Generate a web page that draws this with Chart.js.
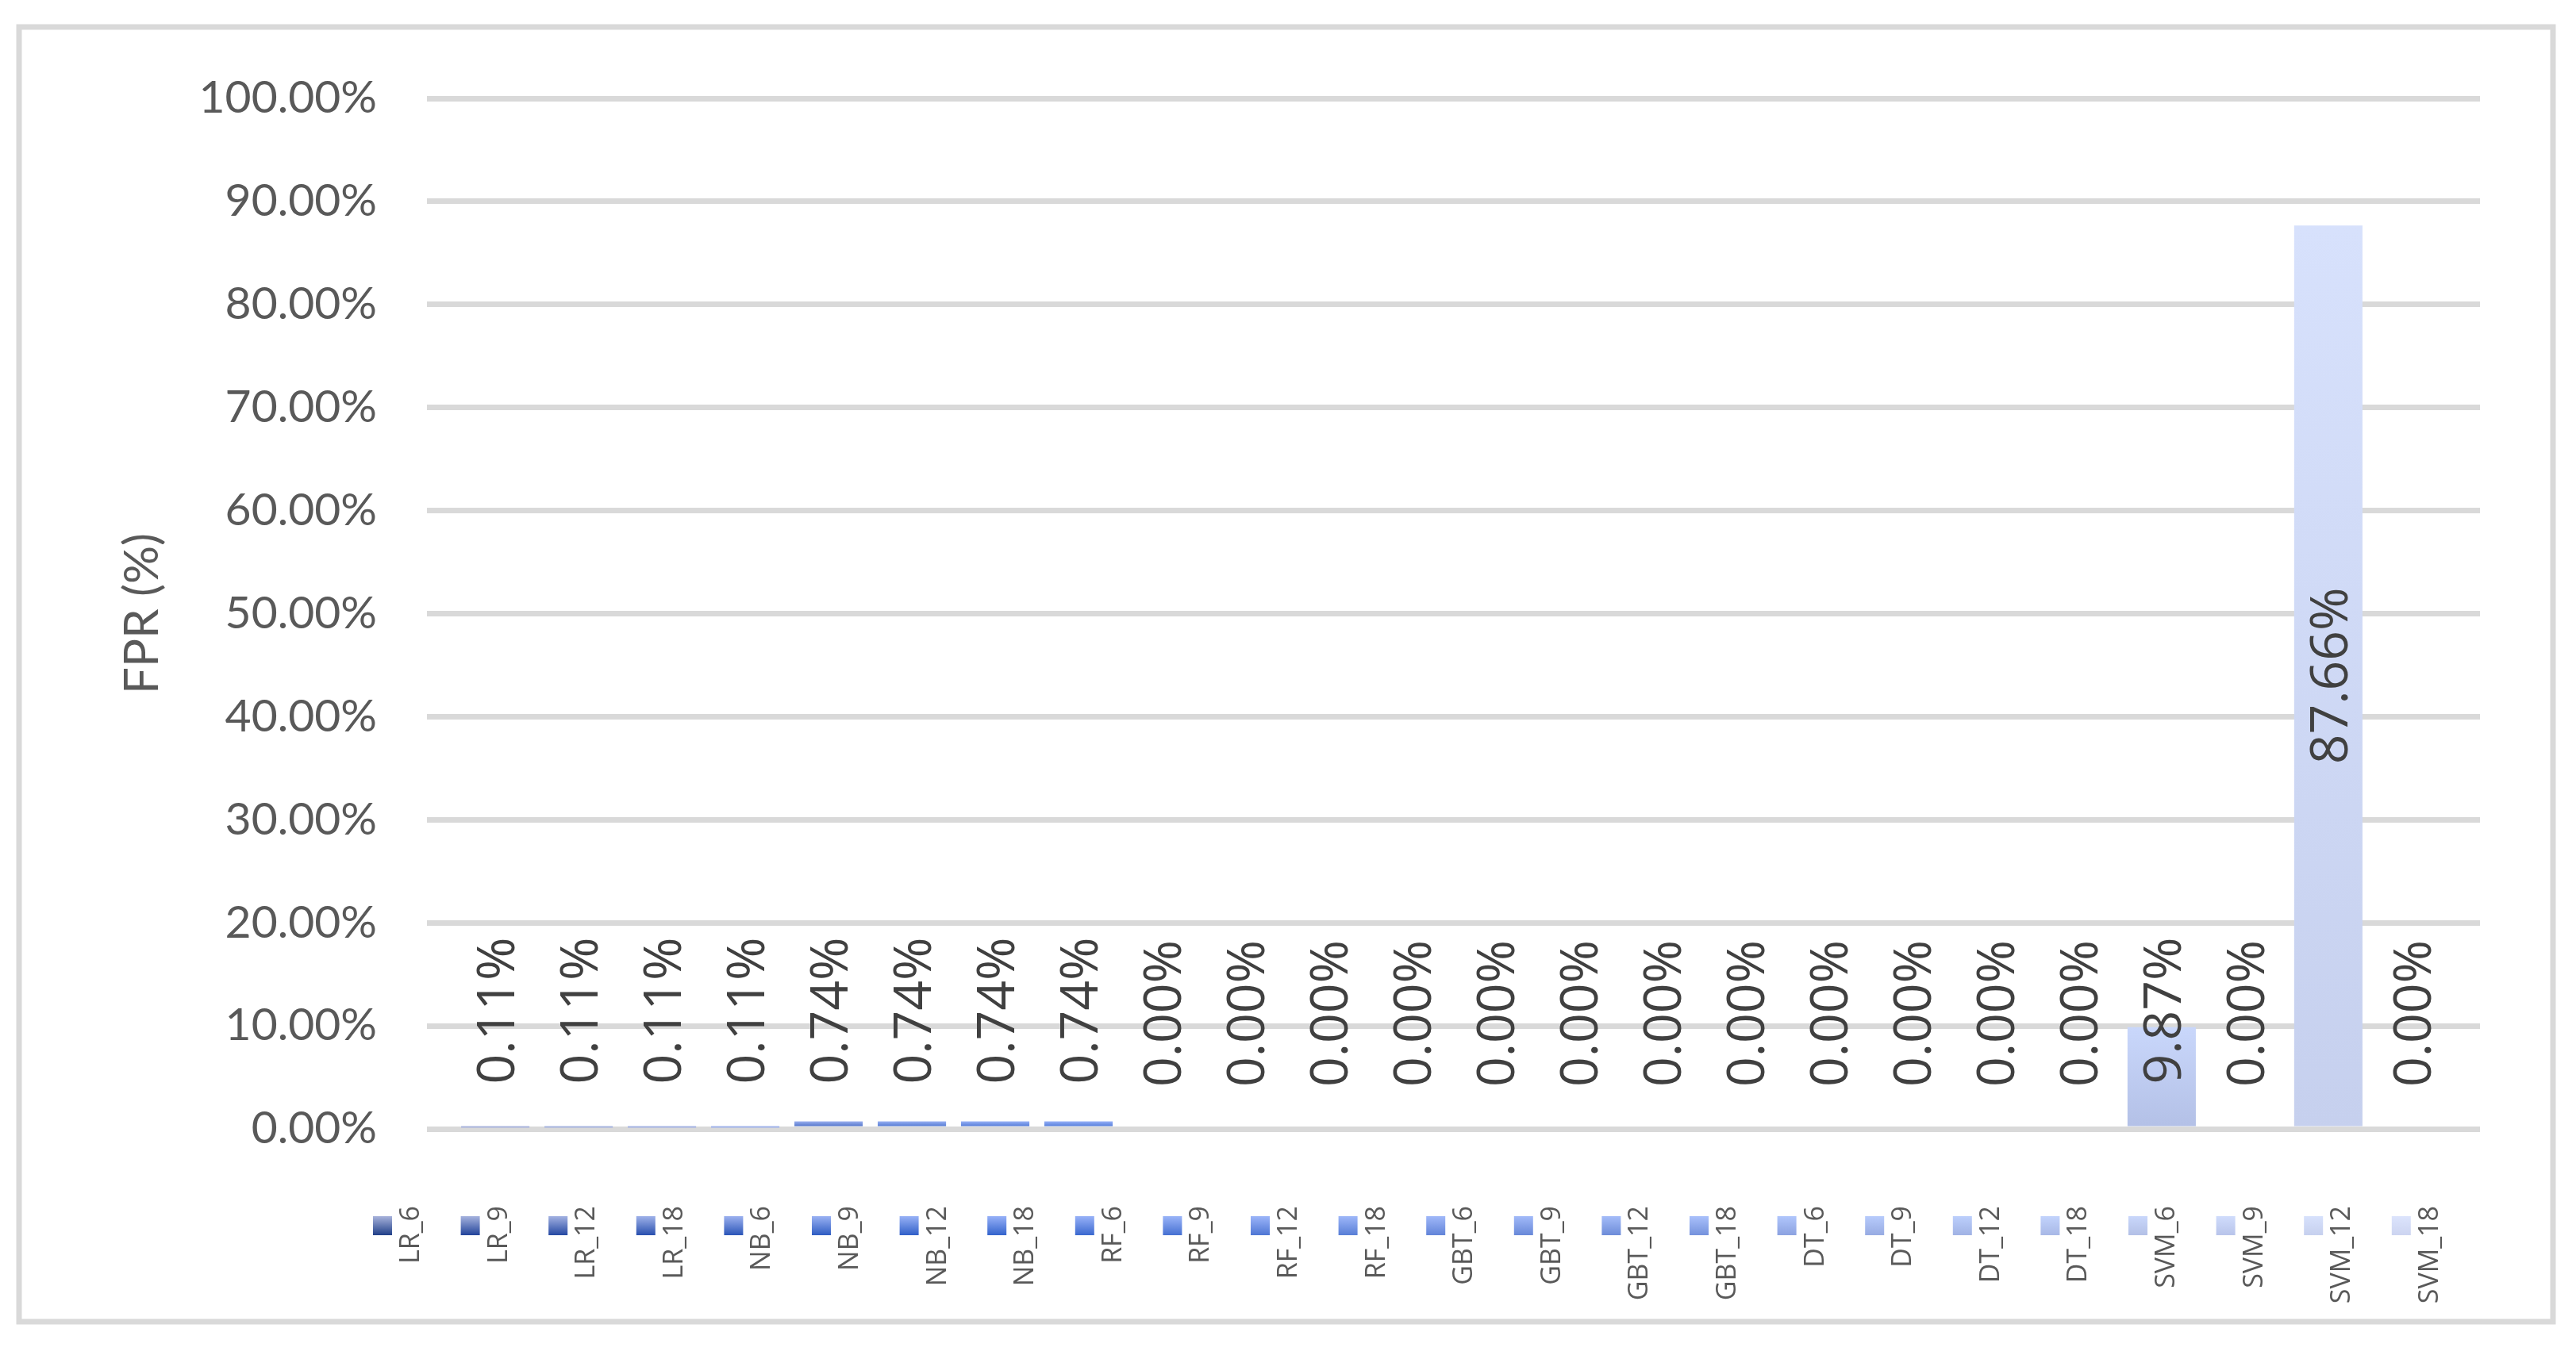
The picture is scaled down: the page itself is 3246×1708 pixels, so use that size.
<!DOCTYPE html>
<html lang="en">
<head>
    <meta charset="UTF-8">
    <title>FPR by model</title>
    <script src="https://cdn.jsdelivr.net/npm/chart.js"></script>
    <style>
        body {
            margin: 0;
            background-color: #ffffff;
        }

        canvas {
            display: block;
        }
    </style>
</head>
<body>
<canvas id="fprChart" width="3246" height="1708"></canvas>

<script>
        // Series names (one bar each) and their FPR values in %
        const seriesNames = ['LR_6', 'LR_9', 'LR_12', 'LR_18', 'NB_6', 'NB_9', 'NB_12', 'NB_18',
            'RF_6', 'RF_9', 'RF_12', 'RF_18', 'GBT_6', 'GBT_9', 'GBT_12', 'GBT_18',
            'DT_6', 'DT_9', 'DT_12', 'DT_18', 'SVM_6', 'SVM_9', 'SVM_12', 'SVM_18'];
        const fprValues = [0.11, 0.11, 0.11, 0.11, 0.74, 0.74, 0.74, 0.74,
            0, 0, 0, 0, 0, 0, 0, 0,
            0, 0, 0, 0, 9.87, 0, 87.66, 0];
        const yTicks = [0, 10, 20, 30, 40, 50, 60, 70, 80, 90, 100];

        // gradient colours per series (top, bottom)
        const topColors = ['#a8b3dc', '#a6b3de', '#a3b2e2', '#9fb2e9', '#9cb1ef', '#9ab2f3', '#98b2f6', '#97b1f8',
            '#98b2f8', '#9ab4f8', '#9cb5f9', '#9eb7f9', '#a0b8f9', '#a2baf9', '#a4bcf9', '#a9c0fb',
            '#b0c6fc', '#b7cbfc', '#bccffc', '#c2d3fc', '#c9d7fb', '#d0dcfc', '#d7e1fc', '#dce4fc'];
        const bottomColors = ['#203f88', '#22439a', '#2548a2', '#284fae', '#2b55b8', '#2e5cc2', '#305fc8', '#3363cc',
            '#3a68cf', '#4570d2', '#4e76d4', '#587ed6', '#6284d8', '#6888d8', '#6d8cd8', '#7592dc',
            '#8ca2e0', '#97abe2', '#a0b2e4', '#a8b8e6', '#b3c0e6', '#b8c4ea', '#c6d0ee', '#ccd4f0'];

        const GRID = '#d9d9d9';

        function barFill(i) {
            return function (ctx) {
                const chart = ctx.chart;
                if (!chart.chartArea || ctx.raw === undefined) return topColors[i];
                const y = chart.scales.y;
                const yTop = y.getPixelForValue(ctx.raw);
                const yBase = y.getPixelForValue(0);
                if (yBase - yTop < 1) return bottomColors[i];
                const g = chart.ctx.createLinearGradient(0, yTop, 0, yBase);
                g.addColorStop(0, topColors[i]);
                g.addColorStop(1, bottomColors[i]);
                return g;
            };
        }

        const datasets = seriesNames.map((name, i) => ({
            label: name,
            data: [fprValues[i]],
            backgroundColor: barFill(i),
            borderWidth: 0,
            barPercentage: 0.82,
            categoryPercentage: 0.974
        }));

        // outer frame of the chart
        const framePlugin = {
            id: 'frame',
            beforeDraw(chart) {
                const c = chart.ctx;
                c.save();
                c.fillStyle = '#ffffff';
                c.fillRect(0, 0, chart.width, chart.height);
                c.strokeStyle = GRID;
                c.lineWidth = 7;
                c.strokeRect(24, 34, chart.width - 53, chart.height - 76);
                c.restore();
            }
        };

        // rotated value labels on the bars
        const valueLabels = {
            id: 'valueLabels',
            afterDatasetsDraw(chart) {
                const c = chart.ctx;
                c.save();
                c.font = '66px "Open Sans", sans-serif';
                c.fillStyle = '#404040';
                c.textAlign = 'center';
                c.textBaseline = 'alphabetic';
                chart.data.datasets.forEach((ds, i) => {
                    const bar = chart.getDatasetMeta(i).data[0];
                    const text = ds.data[0].toFixed(2) + '%';
                    const w = c.measureText(text).width;
                    let cy = (bar.y + bar.base) / 2;
                    const lowest = bar.base - 53;
                    if (cy + w / 2 > lowest) cy = lowest - w / 2;
                    c.save();
                    c.translate(bar.x, cy);
                    c.rotate(-Math.PI / 2);
                    c.fillText(text, 0, 24);
                    c.restore();
                });
                c.restore();
            }
        };

        // legend along the bottom with rotated names
        const bottomLegend = {
            id: 'bottomLegend',
            afterDraw(chart) {
                const c = chart.ctx;
                c.save();
                c.font = '34px "Open Sans", sans-serif';
                c.fillStyle = '#595959';
                c.textAlign = 'right';
                c.textBaseline = 'alphabetic';
                seriesNames.forEach((name, i) => {
                    const x = 470 + i * 110.6;
                    const g = c.createLinearGradient(0, 1533, 0, 1557);
                    g.addColorStop(0, topColors[i]);
                    g.addColorStop(1, bottomColors[i]);
                    c.fillStyle = g;
                    c.fillRect(x, 1533, 24, 24);
                    c.fillStyle = '#595959';
                    c.save();
                    c.translate(x + 58, 1520);
                    c.rotate(-Math.PI / 2);
                    c.fillText(name, 0, 0);
                    c.restore();
                });
                c.restore();
            }
        };

        const ctx = document.getElementById('fprChart').getContext('2d');
        new Chart(ctx, {
            type: 'bar',
            data: {
                labels: [''],
                datasets: datasets
            },
            options: {
                responsive: false,
                animation: false,
                layout: {
                    padding: { left: 0, right: 121, top: 124, bottom: 285 }
                },
                plugins: {
                    legend: { display: false },
                    tooltip: { enabled: false }
                },
                scales: {
                    x: {
                        display: false
                    },
                    y: {
                        min: 0,
                        max: 100,
                        afterBuildTicks(scale) {
                            scale.ticks = yTicks.map(v => ({ value: v }));
                        },
                        afterFit(scale) {
                            scale.width = 538;
                        },
                        border: { display: false },
                        grid: {
                            color: GRID,
                            lineWidth: 7,
                            drawTicks: false
                        },
                        ticks: {
                            padding: 63,
                            color: '#595959',
                            font: { family: 'Lato', size: 57 },
                            callback: v => v.toFixed(2) + '%'
                        },
                        title: {
                            display: true,
                            text: 'FPR (%)',
                            color: '#595959',
                            font: { family: 'Lato', size: 60 },
                            padding: { top: 144, bottom: 0 }
                        }
                    }
                }
            },
            plugins: [framePlugin, valueLabels, bottomLegend]
        });
    </script>
</body>
</html>
